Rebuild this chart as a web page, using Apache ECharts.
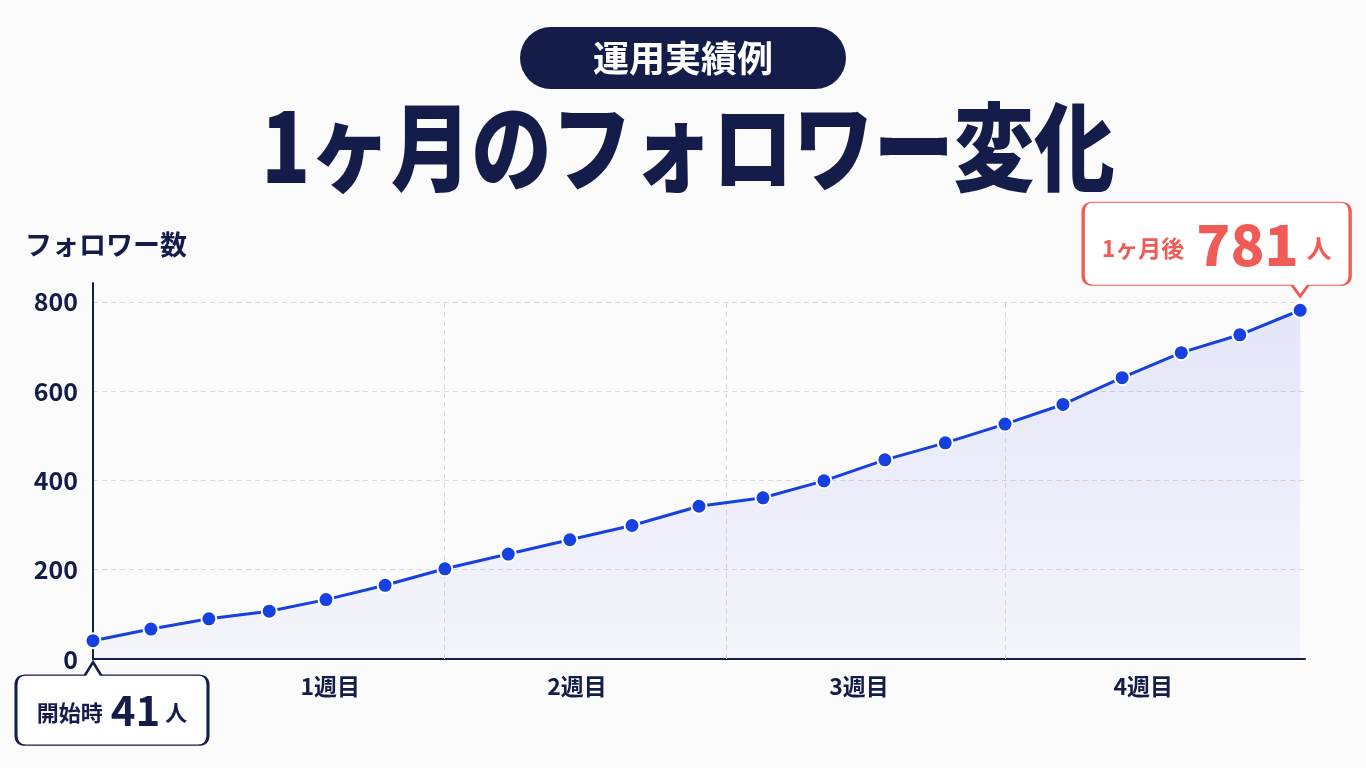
<!DOCTYPE html>
<html><head><meta charset="utf-8">
<script src="https://cdn.jsdelivr.net/npm/echarts@6/dist/echarts.min.js"></script>
<style>html,body{margin:0;padding:0;background:#fbfbfb;}#c{width:1366px;height:768px;}</style>
</head><body><div id="c"></div>
<script>
// ---- data ----
const badgeText = '運用実績例';
const mainTitle = '1ヶ月のフォロワー変化';
const yAxisName = 'フォロワー数';
const dayPos = [0,0.96,1.92,2.92,3.86,4.84,5.83,6.88,7.9,8.93,10.04,11.1,12.11,13.12,14.12,15.11,16.07,17.05,18.03,19.0,20.0];
const followers = [41,67,90,107,133,165,202,235,267,299,342,361,399,446,484,526,570,630,686,726,781];
const yTicks = [0,200,400,600,800];
const weekLabels = ['1週目','2週目','3週目','4週目'];
const weekLabelPos = [3.93, 8.02, 12.69, 17.4];
const weekGridPos = [5.82, 10.49, 15.11];
const startLabel = '開始時';
const endLabel = '1ヶ月後';
const unit = '人';

const NAVY = '#141d4a';
const BLUE = '#1740e0';
const RED = '#f15b55';
const FONT = '"Noto Sans CJK JP", "Noto Sans", sans-serif';

const last = followers.length - 1;
const chart = echarts.init(document.getElementById('c'));
chart.setOption({
  backgroundColor: '#fbfbfb',
  textStyle: { fontFamily: FONT },
  animation: false,
  title: [
    { text: badgeText, left: 'center', top: 27,
      backgroundColor: NAVY, borderRadius: 31, padding: [13, 73],
      textStyle: { color: '#fff', fontSize: 36, fontWeight: 'bold', lineHeight: 36, fontFamily: FONT } }
  ],
  graphic: [
    { type: 'text', x: 688, y: 147, scaleX: 0.838, scaleY: 1,
      style: { text: mainTitle, fill: NAVY, font: '900 96px ' + FONT, textAlign: 'center', textVerticalAlign: 'middle' } }
  ],
  grid: { left: 93, right: 61, top: 283, bottom: 109 },
  xAxis: {
    type: 'value', min: 0, max: 20.08,
    axisLine: { show: true, lineStyle: { color: NAVY, width: 2 } },
    axisTick: { show: false },
    splitLine: { show: false },
    axisLabel: {
      customValues: weekLabelPos,
      formatter: (v) => weekLabels[weekLabelPos.indexOf(v)],
      color: NAVY, fontSize: 23, fontWeight: 'bold', margin: 16
    }
  },
  yAxis: {
    type: 'value', min: 0, max: 842,
    name: yAxisName, nameLocation: 'end', nameGap: 25,
    nameTextStyle: { color: NAVY, fontSize: 27, fontWeight: 'bold', align: 'left', padding: [0, 0, 0, -68] },
    axisLine: { show: true, lineStyle: { color: NAVY, width: 2 } },
    axisTick: { show: false, customValues: yTicks },
    axisLabel: { customValues: yTicks, color: NAVY, fontSize: 25, fontWeight: 600, margin: 15 },
    splitLine: { show: true, lineStyle: { color: '#d6d9df', type: [5, 4], width: 1 } }
  },
  series: [{
    type: 'line',
    data: dayPos.map((d, i) => [d, followers[i]]),
    symbol: 'circle', symbolSize: 15,
    lineStyle: { color: BLUE, width: 3 },
    itemStyle: { color: BLUE, borderColor: '#ffffff', borderWidth: 2 },
    areaStyle: {
      color: { type: 'linear', x: 0, y: 0, x2: 0, y2: 1,
        colorStops: [{ offset: 0, color: 'rgba(85,100,235,0.2)' }, { offset: 1, color: 'rgba(85,100,235,0.06)' }] }
    },
    z: 3,
    markLine: {
      silent: true, symbol: ['none', 'none'], label: { show: false },
      lineStyle: { color: '#d6d9df', type: [5, 4], width: 1 },
      data: weekGridPos.map(x => [{ coord: [x, 0] }, { coord: [x, yTicks[yTicks.length - 1]] }]),
      z: 1
    },
    markPoint: {
      silent: true,
      data: [
        {
          coord: [dayPos[0], followers[0]],
          symbol: 'path://M77 0L85 13H182Q192 13 192 23V73Q192 83 182 83H10Q0 83 0 73V23Q0 13 10 13H69Z',
          symbolSize: [192, 83], symbolOffset: [19, 63],
          itemStyle: { color: '#ffffff', borderColor: NAVY, borderWidth: 2 },
          label: {
            show: true, position: 'inside', offset: [0, 6],
            formatter: '{a|' + startLabel + '}{b|' + followers[0] + '}{c|' + unit + '}',
            rich: {
              a: { color: NAVY, fontSize: 22, fontWeight: 'bold', fontFamily: FONT, padding: [6, 8, 0, 0] },
              b: { color: NAVY, fontSize: 42, fontWeight: 'bold', fontFamily: FONT, padding: [0, 5, 0, 0] },
              c: { color: NAVY, fontSize: 22, fontWeight: 'bold', fontFamily: FONT, padding: [6, 0, 0, 0] }
            }
          }
        },
        {
          coord: [dayPos[last], followers[last]],
          symbol: 'path://M10 0H257Q267 0 267 10V73Q267 83 257 83H225L217 94L209 83H10Q0 83 0 73V10Q0 0 10 0Z',
          symbolSize: [267, 94], symbolOffset: [-83.5, -61],
          itemStyle: { color: '#ffffff', borderColor: RED, borderWidth: 2 },
          label: {
            show: true, position: 'inside', offset: [0, -5],
            formatter: '{a|' + endLabel + '}{b|' + followers[last] + '}{c|' + unit + '}',
            rich: {
              a: { color: RED, fontSize: 23, fontWeight: 'bold', fontFamily: FONT, padding: [8, 12, 0, 0] },
              b: { color: RED, fontSize: 56, fontWeight: 900, fontFamily: FONT, padding: [0, 8, 0, 0] },
              c: { color: RED, fontSize: 25, fontWeight: 'bold', fontFamily: FONT, padding: [8, 0, 0, 0] }
            }
          }
        }
      ]
    }
  }]
});
</script></body></html>
